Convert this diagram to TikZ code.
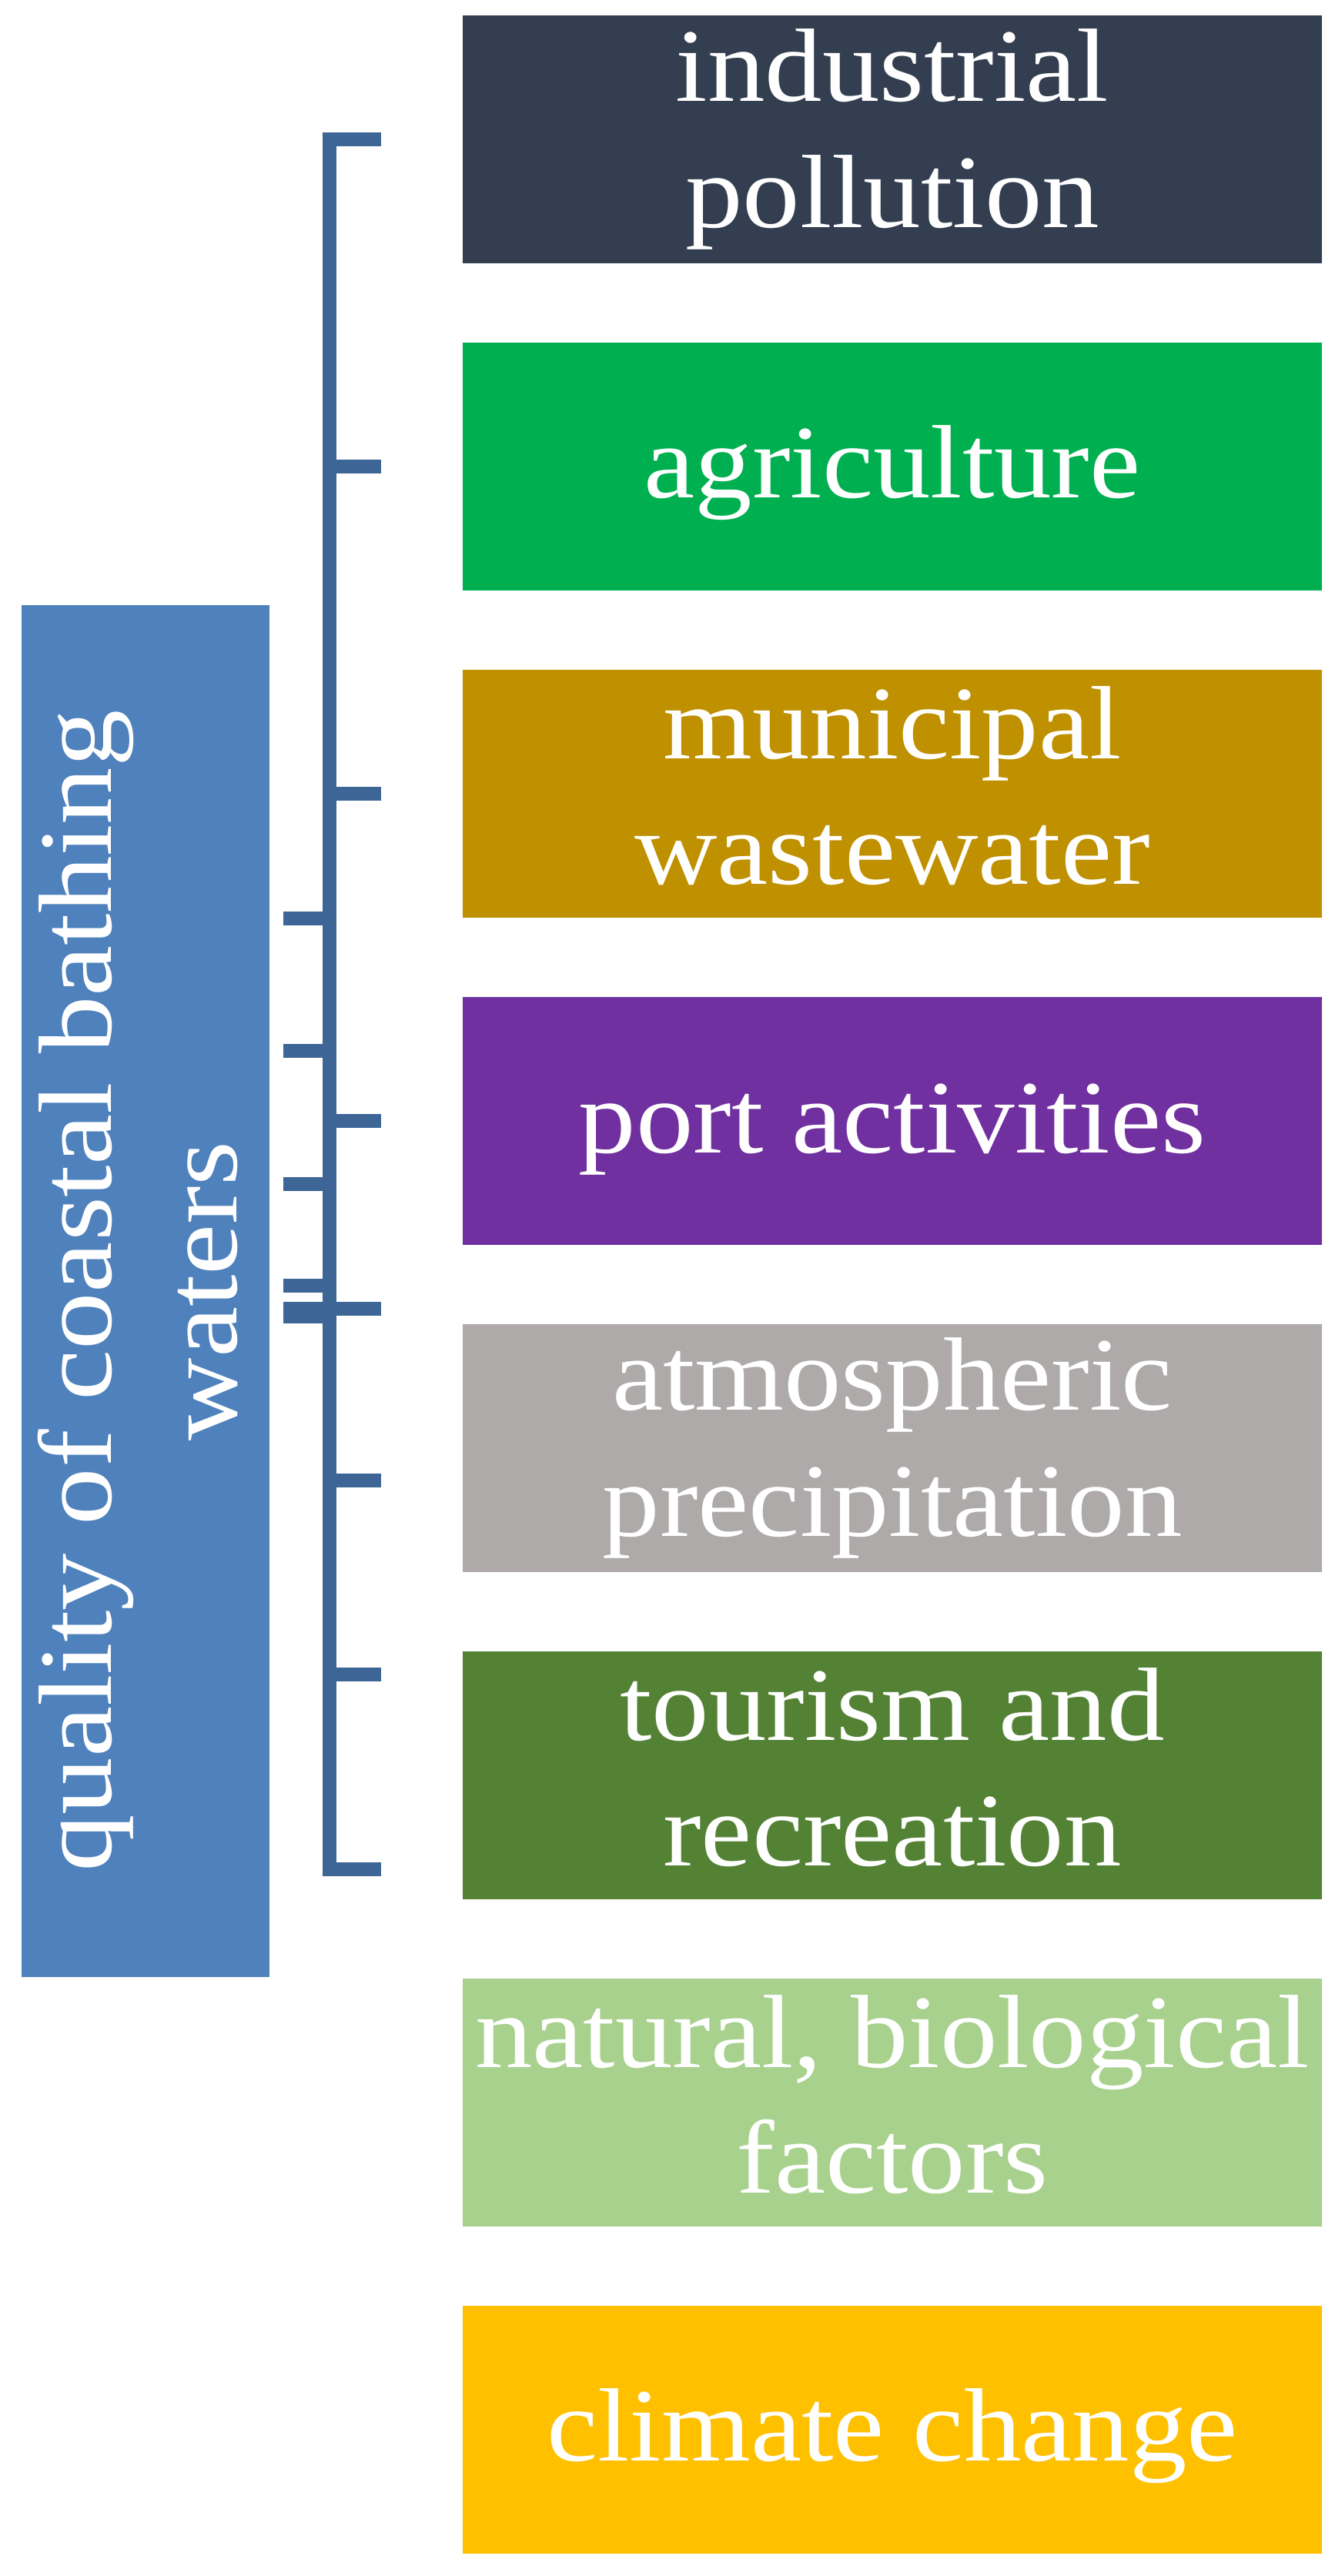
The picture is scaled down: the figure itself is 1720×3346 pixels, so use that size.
\documentclass[tikz,border=0pt]{standalone}
\usepackage{fontspec}
\setmainfont[FakeStretch=1.1]{Liberation Serif}
\definecolor{slate}{HTML}{333F50}
\definecolor{agrgreen}{HTML}{00B050}
\definecolor{ochre}{HTML}{BF9000}
\definecolor{violet}{HTML}{7030A0}
\definecolor{ash}{HTML}{AEAAAA}
\definecolor{moss}{HTML}{548235}
\definecolor{sage}{HTML}{A9D18E}
\definecolor{amber}{HTML}{FFC000}
\definecolor{steel}{HTML}{4F81BD}
\definecolor{barblue}{HTML}{3D6596}
\newcommand{\vstrut}{\rule[-0.16em]{0pt}{0.98em}}

\begin{document}
\begin{tikzpicture}[x=0.01cm,y=-0.01cm,
  every node/.style={text=white,inner sep=0pt,align=center,
    font=\fontsize{38.5}{46.4}\selectfont,
    execute at begin node=\vstrut,execute at end node=\vstrut},
  factor/.style={minimum width=11.16cm,minimum height=3.21cm},
  bar/.style={draw=barblue,line width=0.18cm}]
  \useasboundingbox (0,0) rectangle (1720,3346);
  \path (1159,181) node[factor,fill=slate] (ind) {industrial\\pollution}
  (1159,606) node[factor,fill=agrgreen] (agr) {agriculture}
  (1159,1031) node[factor,fill=ochre] (mun) {municipal\\wastewater}
  (1159,1456) node[factor,fill=violet] (port) {port activities}
  (1159,1881) node[factor,fill=ash] (atm) {atmospheric\\precipitation}
  (1159,2306) node[factor,fill=moss] (tour) {tourism and\\recreation}
  (1159,2731) node[factor,fill=sage] (nat) {natural, biological\\factors}
  (1159,3156) node[factor,fill=amber] (clim) {climate change};
  \path (189,1677) node[fill=steel,rotate=90,minimum width=17.81cm,minimum height=3.22cm] (qual)
  {quality of coastal bathing\\waters};
  \draw[bar] (495,181) -- (428,181) -- (428,2428) -- (495,2428);
  \draw[bar] (428,606) -- (495,606) (428,1031) -- (495,1031) (428,1456) -- (495,1456)
  (428,1700) -- (495,1700) (428,1923) -- (495,1923) (428,2175) -- (495,2175);
  \draw[bar] (368,1193) -- (428,1193) (368,1365) -- (428,1365) (368,1538) -- (428,1538)
  (368,1670) -- (428,1670);
  \draw[bar,line width=0.28cm] (368,1705) -- (428,1705);
\end{tikzpicture}
\end{document}
